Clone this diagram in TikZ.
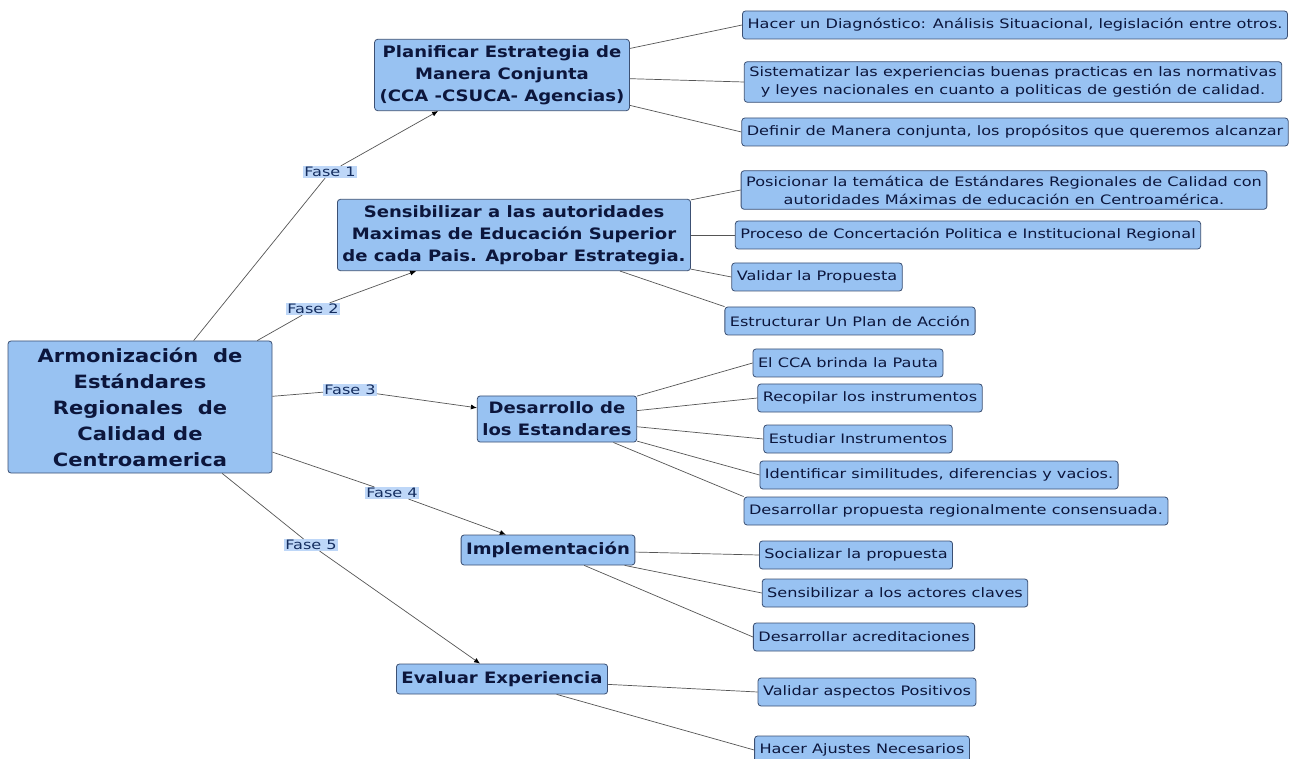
\documentclass[tikz,border=0pt]{standalone}
\usepackage{fontspec}
\setmainfont{DejaVu Sans}
\newfontfamily\leaffamily{DejaVu Sans}[FakeStretch=1.24]
\newfontfamily\boldfamily{DejaVu Sans}[FakeStretch=1.15]
\usetikzlibrary{arrows.meta}

\definecolor{conceptfill}{RGB}{152,194,242}
\definecolor{conceptline}{RGB}{60,80,115}
\definecolor{conceptink}{RGB}{12,22,60}
\definecolor{faseink}{RGB}{20,45,95}
\definecolor{fasefill}{RGB}{190,215,248}
\definecolor{linkline}{RGB}{85,85,85}

\tikzset{
  concept/.style={draw=conceptline, line width=0.8pt, fill=conceptfill, text=conceptink, rounded corners=3pt,
    align=center, inner xsep=5pt, inner ysep=4pt},
  root/.style={concept, font=\boldfamily\fontsize{18.3}{26}\selectfont\bfseries, minimum width=264pt, minimum height=132pt},
  phase/.style={concept, font=\boldfamily\fontsize{15.7}{22}\selectfont\bfseries, inner ysep=6pt, minimum height=30pt},
  leaf/.style={concept, font=\leaffamily\fontsize{13}{18}\selectfont, inner ysep=5pt, minimum height=28pt},
  fase/.style={fill=fasefill, text=faseink, font=\leaffamily\fontsize{13}{15}\selectfont, inner sep=1pt},
  link/.style={draw=linkline, line width=0.7pt},
  phasearrow/.style={link, -{Latex[length=6pt,width=5pt,color=black]}}
}

\begin{document}
\begin{tikzpicture}[x=1pt,y=-1pt]
  \useasboundingbox[fill=white] (0,0) rectangle (1291,759);

  \node[root] (root) at (140,407) {Armonización~ de\\Estándares\\Regionales~ de\\Calidad de\\Centroamerica};

  \node[phase] (p1) at (502,75) {Planificar Estrategia de\\Manera Conjunta\\(CCA -CSUCA- Agencias)};
  \node[phase] (p2) at (514,235) {Sensibilizar a las autoridades\\Maximas de Educación Superior\\de cada Pais. Aprobar Estrategia.};
  \node[phase] (p3) at (557,419) {Desarrollo de\\los Estandares};
  \node[phase] (p4) at (548,550) {Implementación};
  \node[phase] (p5) at (502,679) {Evaluar Experiencia};

  \node[fase] (f1) at (330,172) {Fase 1};
  \node[fase] (f2) at (313,309) {Fase 2};
  \node[fase] (f3) at (350,390) {Fase 3};
  \node[fase] (f4) at (392,493) {Fase 4};
  \node[fase] (f5) at (311,545) {Fase 5};

  \node[leaf] (l11) at (1015,25) {Hacer un Diagnóstico: Análisis Situacional, legislación entre otros.};
  \node[leaf] (l12) at (1013,82) {Sistematizar las experiencias buenas practicas en las normativas\\y leyes nacionales en cuanto a politicas de gestión de calidad.};
  \node[leaf] (l13) at (1015,132) {Definir de Manera conjunta, los propósitos que queremos alcanzar};

  \node[leaf] (l21) at (1004,190) {Posicionar la temática de Estándares Regionales de Calidad con\\autoridades Máximas de educación en Centroamérica.};
  \node[leaf] (l22) at (968,235) {Proceso de Concertación Politica e Institucional Regional};
  \node[leaf] (l23) at (817,277) {Validar la Propuesta};
  \node[leaf] (l24) at (850,321) {Estructurar Un Plan de Acción};

  \node[leaf] (l31) at (848,363) {El CCA brinda la Pauta};
  \node[leaf] (l32) at (870,398) {Recopilar los instrumentos};
  \node[leaf] (l33) at (858,439) {Estudiar Instrumentos};
  \node[leaf] (l34) at (939,475) {Identificar similitudes, diferencias y vacios.};
  \node[leaf] (l35) at (956,511) {Desarrollar propuesta regionalmente consensuada.};

  \node[leaf] (l41) at (856,555) {Socializar la propuesta};
  \node[leaf] (l42) at (895,593) {Sensibilizar a los actores claves};
  \node[leaf] (l43) at (864,637) {Desarrollar acreditaciones};

  \node[leaf] (l51) at (867,692) {Validar aspectos Positivos};
  \node[leaf] (l52) at (862,750) {Hacer Ajustes Necesarios};

  \draw[link] (root) -- (f1);
  \draw[link] (root) -- (f2);
  \draw[link] (root) -- (f3);
  \draw[link] (root) -- (f4);
  \draw[link] (root) -- (f5);
  \draw[phasearrow] (f1) -- (p1);
  \draw[phasearrow] (f2) -- (p2);
  \draw[phasearrow] (f3) -- (p3);
  \draw[phasearrow] (f4) -- (p4);
  \draw[phasearrow] (f5) -- (p5);

  \draw[link] (p1) -- (l11.west);
  \draw[link] (p1) -- (l12.west);
  \draw[link] (p1) -- (l13.west);
  \draw[link] (p2) -- (l21.west);
  \draw[link] (p2) -- (l22.west);
  \draw[link] (p2) -- (l23.west);
  \draw[link] (p2) -- (l24.north west);
  \draw[link] (p3) -- (l31.west);
  \draw[link] (p3) -- (l32.west);
  \draw[link] (p3) -- (l33.west);
  \draw[link] (p3) -- (l34.west);
  \draw[link] (p3) -- (l35.north west);
  \draw[link] (p4) -- (l41.west);
  \draw[link] (p4) -- (l42.west);
  \draw[link] (p4) -- (l43.west);
  \draw[link] (p5) -- (l51.west);
  \draw[link] (p5) -- (l52.west);
\end{tikzpicture}
\end{document}
